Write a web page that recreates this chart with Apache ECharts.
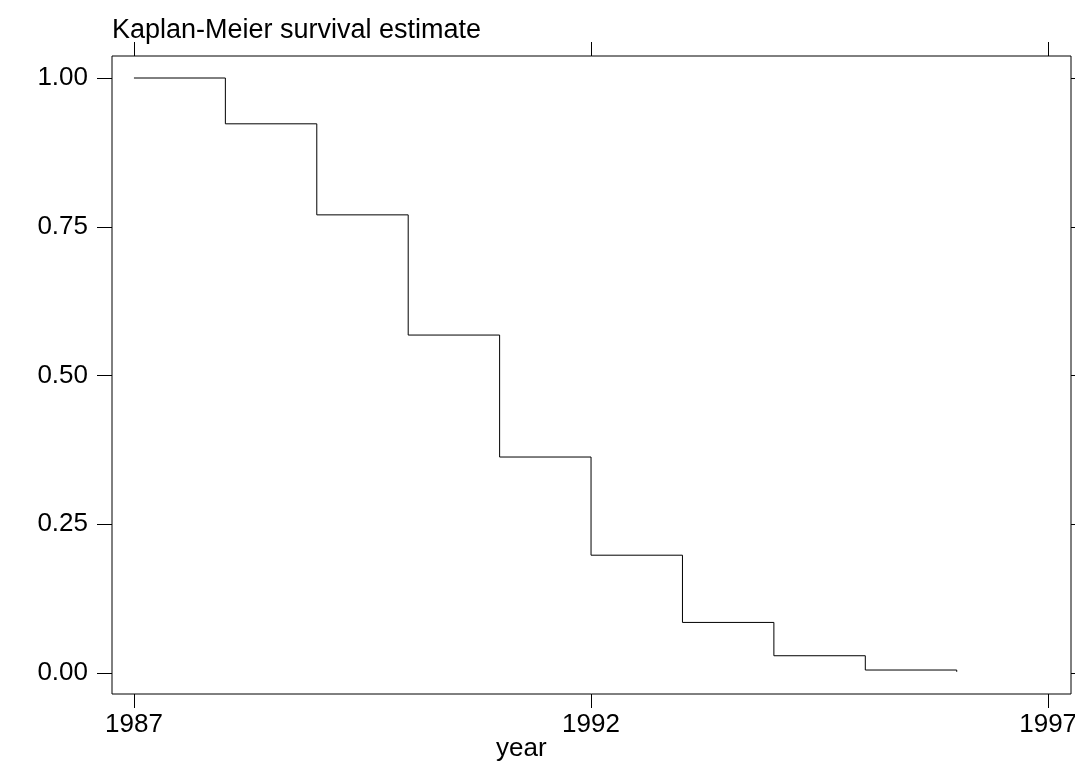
<!DOCTYPE html>
<html>
<head>
<meta charset="utf-8">
<title>Kaplan-Meier survival estimate</title>
<script src="https://cdn.jsdelivr.net/npm/echarts@6/dist/echarts.min.js"></script>
<style>
    html, body {margin: 0; padding: 0; background: #fff;}
    #main {width: 1075px; height: 763px;}
</style>
</head>
<body>
<div id="main"></div>
<script>
// survival estimate at start of each year (step function)
var years = [1987, 1988, 1989, 1990, 1991, 1992, 1993, 1994, 1995, 1996];
var survival = [1.000, 0.923, 0.770, 0.568, 0.363, 0.198, 0.085, 0.029, 0.005, 0.002];
var xTicks = [1987, 1992, 1997];
var yTicks = [0, 0.25, 0.5, 0.75, 1];

var font = 'Liberation Sans, Arial, sans-serif';

var seriesData = years.map(function (y, i) {
    return [y, survival[i]];
});

var option = {
    backgroundColor: '#fff',
    animation: false,
    title: [
        {
            text: 'Kaplan-Meier survival estimate',
            left: 112,
            top: 17,
            padding: 0,
            textStyle: {fontFamily: font, fontSize: 27, fontWeight: 'normal', color: '#000'}
        },
        {
            text: 'year',
            left: 496,
            top: 736,
            padding: 0,
            textStyle: {fontFamily: font, fontSize: 26, fontWeight: 'normal', color: '#000'}
        }
    ],
    grid: {
        left: 112,
        right: 4,
        top: 56,
        bottom: 69,
        containLabel: false,
        outerBoundsMode: 'none',
        show: true,
        borderColor: '#000',
        borderWidth: 1,
        backgroundColor: '#fff'
    },
    xAxis: [
        {
            type: 'value',
            position: 'bottom',
            min: 1986.76,
            max: 1997.25,
            splitLine: {show: false},
            axisLine: {show: false, onZero: false},
            axisTick: {show: true, length: 14, customValues: xTicks, lineStyle: {color: '#000'}},
            axisLabel: {
                customValues: xTicks,
                margin: 18,
                color: '#000',
                fontFamily: font,
                fontSize: 26,
                formatter: function (v) { return String(v); }
            }
        },
        {
            type: 'value',
            position: 'top',
            min: 1986.76,
            max: 1997.25,
            splitLine: {show: false},
            axisLine: {show: false, onZero: false},
            axisTick: {show: true, length: 14, customValues: xTicks, lineStyle: {color: '#000'}},
            axisLabel: {show: false}
        }
    ],
    yAxis: [
        {
            type: 'value',
            position: 'left',
            min: -0.0353,
            max: 1.037,
            splitLine: {show: false},
            axisLine: {show: false, onZero: false},
            axisTick: {show: true, length: 15, customValues: yTicks, lineStyle: {color: '#000'}},
            axisLabel: {
                customValues: yTicks,
                margin: 24,
                color: '#000',
                fontFamily: font,
                fontSize: 26,
                formatter: function (v) { return v.toFixed(2); }
            }
        },
        {
            type: 'value',
            position: 'right',
            min: -0.0353,
            max: 1.037,
            splitLine: {show: false},
            axisLine: {show: false, onZero: false},
            axisTick: {show: true, length: 15, customValues: yTicks, lineStyle: {color: '#000'}},
            axisLabel: {show: false}
        }
    ],
    series: [
        {
            name: 'survival',
            type: 'line',
            step: 'end',
            xAxisIndex: 0,
            yAxisIndex: 0,
            symbol: 'none',
            lineStyle: {color: '#000', width: 1},
            data: seriesData
        }
    ]
};

var myChart = echarts.init(document.getElementById('main'));
myChart.setOption(option);
</script>
</body>
</html>
